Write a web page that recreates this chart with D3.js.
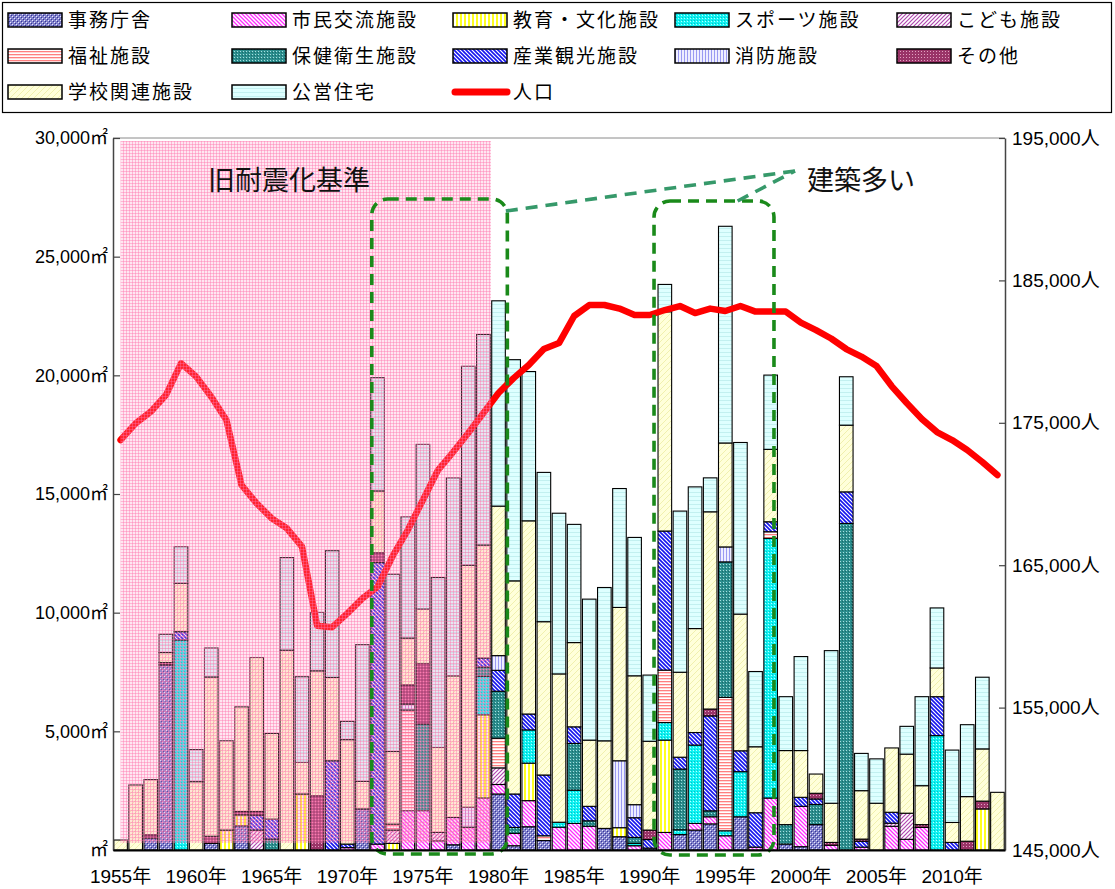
<!DOCTYPE html>
<html><head><meta charset="utf-8">
<script src="https://cdn.jsdelivr.net/npm/d3@7"></script>
<style>
body{margin:0;background:#fff;}
svg{display:block;font-family:"Noto Sans CJK JP",sans-serif;}
</style></head><body>
<svg id="chart" width="1115" height="889"></svg>
<script>
// Floor area built per year (㎡) by facility type, and city population (人)
const years = [1955,1956,1957,1958,1959,1960,1961,1962,1963,1964,
  1965,1966,1967,1968,1969,1970,1971,1972,1973,1974,
  1975,1976,1977,1978,1979,1980,1981,1982,1983,1984,
  1985,1986,1987,1988,1989,1990,1991,1992,1993,1994,
  1995,1996,1997,1998,1999,2000,2001,2002,2003,2004,
  2005,2006,2007,2008,2009,2010,2011,2012,2013];

const categories = ["事務庁舎","市民交流施設","教育・文化施設","スポーツ施設","こども施設",
  "福祉施設","保健衛生施設","産業観光施設","消防施設","その他","学校関連施設","公営住宅"];

const office   = [0,0,505,7800,0,0,280,0,1020,0, 0,0,0,0,0,0,1730,0,0,0, 0,0,220,0,0,2360,180,980,400,0, 0,0,910,560,0,80,0,650,840,1100, 0,1400,0,0,250,140,1070,0,0,0, 0,0,0,0,0,0,0,0,0];
const civic    = [0,0,0,0,0,0,0,0,0,0, 0,0,0,0,0,100,0,250,0,1660, 1660,390,1150,960,2190,400,520,1100,0,960, 1120,1000,0,0,180,0,740,0,280,300, 600,0,120,2190,0,1700,0,200,0,120, 0,1000,450,950,0,0,0,0,0];
const culture  = [0,0,0,0,0,0,0,840,460,0, 0,0,2360,0,0,0,0,0,280,0, 0,0,0,0,3510,0,0,1580,0,0, 0,0,0,380,0,0,3890,0,0,0, 0,0,0,0,0,0,0,0,0,0, 0,0,0,0,0,0,0,1730,0];
const sports   = [0,0,0,0,8850,0,0,0,0,0, 0,0,0,0,0,0,0,0,0,0, 0,0,0,0,1620,0,0,1400,0,210, 1400,0,0,0,100,0,740,200,3300,0, 210,1900,0,10940,0,0,0,0,0,0, 0,0,0,0,4820,0,0,0,0];
const children = [0,0,0,0,0,0,0,0,0,840, 0,0,0,0,0,0,0,0,560,0, 0,350,0,0,0,700,0,0,0,0, 0,0,0,0,0,0,0,0,0,0, 0,0,0,0,0,0,0,0,0,0, 0,130,1100,0,0,0,0,0,0];
const welfare  = [0,0,0,0,0,0,0,0,0,0, 0,0,0,0,0,0,0,0,250,4240, 0,0,0,0,0,1250,0,0,200,0, 0,0,0,0,0,0,2210,0,0,0, 5620,0,0,280,0,0,0,0,0,0, 0,0,0,0,0,0,0,0,0];
const health   = [0,0,0,0,0,0,0,0,0,0, 460,0,0,0,0,0,0,0,0,0, 3650,0,0,0,390,1980,250,0,0,0, 1970,230,0,0,250,0,0,2560,0,250, 5710,0,0,0,820,0,850,0,13760,0, 0,0,0,0,0,0,0,0,0];
const industry = [0,0,0,0,350,0,0,0,0,630, 840,0,0,0,3760,150,0,11860,0,0, 0,0,0,0,380,880,1410,670,2560,0, 700,610,0,0,830,360,5860,500,530,4000, 0,880,1450,420,0,380,230,0,1330,250, 0,460,0,0,1640,320,0,0,0];
const fire     = [0,0,0,0,0,0,0,0,0,0, 0,0,0,0,0,0,0,0,0,250, 0,0,0,840,0,620,0,0,0,0, 0,0,0,2820,550,0,0,0,0,0, 630,0,0,0,0,0,0,0,0,0, 0,0,0,0,0,0,0,0,0];
const other    = [0,0,140,100,0,0,300,0,140,150, 0,0,0,2290,0,0,0,420,0,810, 2550,0,0,0,0,0,0,0,0,0, 0,0,0,0,0,400,0,0,0,290, 0,0,0,0,0,0,240,120,0,90, 0,0,0,120,0,0,370,330,0];
const school   = [420,2740,2320,420,2040,2880,6710,3760,4410,6490, 3610,8420,1330,5260,3510,4400,1160,2600,3060,1970, 2290,3580,5970,10200,4760,6300,8980,8140,6460,6250, 3550,2790,3690,6460,5430,3740,9240,3580,4380,8310, 4380,5760,2780,3050,3120,1970,810,1650,2810,2040, 1970,2710,2490,1640,1210,840,1880,2200,2430];
const housing  = [0,0,0,770,1540,1350,1220,0,0,0, 0,3900,3610,2460,5340,770,5760,4770,7470,5110, 6940,7160,8340,8380,8870,8650,9320,6290,6290,6770, 4980,5940,6460,5010,5830,2790,1150,6790,5970,1430, 9130,7230,3170,3130,2270,3960,0,6430,2040,1570, 1870,0,1170,3750,2530,3050,3030,3020,0];

const population = [173790,174960,175780,176950,179180,178240,176830,175200,170630,169340,
  168290,167590,166300,160750,160650,161620,162670,163490,165650,167470,
  169580,171680,172950,174280,175690,177090,178140,179060,180180,180600,
  182500,183270,183270,183020,182570,182570,182920,183200,182710,183020,
  182850,183200,182810,182810,182810,182040,181510,180920,180180,179650,
  178990,177580,176390,175270,174350,173790,173090,172250,171330];

const areaTicks = [0,5000,10000,15000,20000,25000,30000];
const popTicks = [145000,155000,165000,175000,185000,195000];
const yearTicks = [1955,1960,1965,1970,1975,1980,1985,1990,1995,2000,2005,2010];

const seriesValues = [office,civic,culture,sports,children,welfare,health,industry,fire,other,school,housing];

const svg = d3.select("#chart");
const plot = {left:113, right:1005, top:138, bottom:850};

const x = d3.scaleBand().domain(years).range([plot.left, plot.right]).paddingInner(0.1).paddingOuter(0.05);
const y = d3.scaleLinear().domain([0,30000]).range([plot.bottom, plot.top]);
const y2 = d3.scaleLinear().domain([145000,195000]).range([plot.bottom, plot.top]);

// ---- fill patterns ----
const defs = svg.append("defs");
function pattern(id, w, h, bg, draw){
  const p = defs.append("pattern").attr("id", id).attr("patternUnits","userSpaceOnUse")
    .attr("width", w).attr("height", h);
  p.append("rect").attr("width", w).attr("height", h).attr("fill", bg);
  draw(p);
}
const dot = (p, x0, y0, c) => p.append("rect").attr("x",x0).attr("y",y0).attr("width",1).attr("height",1).attr("fill",c);

pattern("p-office",4,4,"#8282CA",p=>{dot(p,0,0,"#E6E6FF");dot(p,2,2,"#E6E6FF");dot(p,1,1,"#34349A");dot(p,3,3,"#34349A");});
pattern("p-civic",4,4,"#fff",p=>p.append("path").attr("d","M-1,-1L5,5M3,-1L5,1M-1,3L1,5").attr("stroke","#FF30FF").attr("stroke-width",1.3));
pattern("p-culture",4,4,"#fff",p=>{p.append("rect").attr("width",2).attr("height",4).attr("fill","#FFFF20");});
pattern("p-sports",3,3,"#10F2F2",p=>{dot(p,0,0,"#B8FFFF");dot(p,1,2,"#00C4C4");});
pattern("p-children",4,4,"#fff",p=>p.append("path").attr("d","M-1,5L5,-1M-1,1L1,-1M3,5L5,3").attr("stroke","#B048B0").attr("stroke-width",1.2));
pattern("p-welfare",3,3,"#fff",p=>p.append("rect").attr("width",3).attr("height",1.3).attr("fill","#FF8080"));
pattern("p-health",3,3,"#2C8E8E",p=>{dot(p,0,0,"#A8E0E0");dot(p,2,1,"#1A6A6A");});
pattern("p-industry",4,4,"#fff",p=>p.append("path").attr("d","M-1,-1L5,5M3,-1L5,1M-1,3L1,5").attr("stroke","#1414EE").attr("stroke-width",1.6));
pattern("p-fire",3,3,"#EEEEFF",p=>p.append("rect").attr("width",1).attr("height",3).attr("fill","#9A9AF2"));
pattern("p-other",3,3,"#9A3468",p=>{dot(p,0,0,"#E2A2C2");});
pattern("p-school",6,6,"#FFFFDA",p=>p.append("path").attr("d","M-1,7L7,-1M-1,1L1,-1M5,7L7,5").attr("stroke","#F0F0AE").attr("stroke-width",1));
pattern("p-housing",4,4,"#DEFFFF",p=>p.append("rect").attr("width",4).attr("height",1).attr("fill","#C2F0F0"));
pattern("p-old",3,3,"rgba(255,150,195,0.24)",p=>p.append("path").attr("d","M0,0.5H3M0.5,0V3").attr("stroke","rgba(255,110,170,0.4)").attr("stroke-width",1));

const fillIds = ["p-office","p-civic","p-culture","p-sports","p-children","p-welfare","p-health","p-industry","p-fire","p-other","p-school","p-housing"];
const fillOf = {};
categories.forEach((c,i)=> fillOf[c] = `url(#${fillIds[i]})`);

// ---- stacked bars ----
const rows = years.map((yr,i)=>{
  const r = {year: yr};
  categories.forEach((c,k)=> r[c] = seriesValues[k][i]);
  return r;
});
const stacked = d3.stack().keys(categories)(rows);

const barG = svg.append("g");
stacked.forEach(layer=>{
  barG.append("g").attr("fill", fillOf[layer.key])
    .selectAll("rect").data(layer.filter(d=>d[1]-d[0]>0)).join("rect")
    .attr("x", d=>x(d.data.year))
    .attr("width", x.bandwidth())
    .attr("y", d=>y(d[1]))
    .attr("height", d=>y(d[0])-y(d[1]))
    .attr("stroke","#000").attr("stroke-width",1.1);
});

// ---- population line ----
const line = d3.line().x((d,i)=>x(years[i])+x.bandwidth()/2).y(d=>y2(d));
svg.append("path").datum(population).attr("d", line)
  .attr("fill","none").attr("stroke","#FF0000").attr("stroke-width",6.5)
  .attr("stroke-linejoin","round").attr("stroke-linecap","round");

// ---- pre-1981 seismic standard period shading ----
const oldStart = x(1955) + x.bandwidth()/2;
const oldEnd = x(1980) - x.step()*x.paddingInner()/2;
svg.append("rect").attr("x", oldStart).attr("y", plot.top+3)
  .attr("width", oldEnd-oldStart).attr("height", plot.bottom-plot.top-10)
  .attr("fill","url(#p-old)");

svg.append("text").attr("x",208).attr("y",190).attr("font-size",27).attr("fill","#111")
  .text("旧耐震化基準");

// ---- construction-peak callouts ----
const boxG = svg.append("g").attr("fill","none").attr("stroke","#1A8A1A")
  .attr("stroke-width",3.6).attr("stroke-dasharray","11,7");
boxG.append("rect").attr("x", x(1972)+1).attr("y",199)
  .attr("width", x(1981)-x(1972)-0.5).attr("height",655).attr("rx",16);
boxG.append("rect").attr("x", x(1991)-4).attr("y",201)
  .attr("width", x(1999)-x(1991)-1).attr("height",654).attr("rx",16);

const callout = [795,171];
svg.append("g").attr("fill","none").attr("stroke","#36996A").attr("stroke-width",3.6)
  .attr("stroke-dasharray","12,8")
  .selectAll("path").data([[x(1981)-1,211],[x(1996)+4,201]]).join("path")
  .attr("d", d=>`M${d[0]},${d[1]}L${callout[0]},${callout[1]}`);
svg.append("text").attr("x",807).attr("y",190).attr("font-size",27).attr("fill","#111")
  .text("建築多い");

// ---- frame & axes ----
const axisFont = '"Liberation Sans Narrow","Arial Narrow","Liberation Sans","Noto Sans CJK JP",sans-serif';
svg.append("line").attr("x1",plot.left).attr("x2",plot.right).attr("y1",plot.top).attr("y2",plot.top)
  .attr("stroke","#8a8a8a").attr("stroke-width",1);

const yAxis = svg.append("g").attr("transform",`translate(${plot.left},0)`)
  .call(d3.axisLeft(y).tickValues(areaTicks).tickSizeInner(-7).tickSizeOuter(0).tickPadding(5)
    .tickFormat(d=> d===0 ? "㎡" : d3.format(",")(d)+"㎡"));
const y2Axis = svg.append("g").attr("transform",`translate(${plot.right},0)`)
  .call(d3.axisRight(y2).tickValues(popTicks).tickSizeInner(-6).tickSizeOuter(0).tickPadding(7)
    .tickFormat(d=> d3.format(",")(d)+"人"));
[yAxis,y2Axis].forEach(g=>{
  g.select(".domain").attr("stroke","#444").attr("stroke-width",1.5);
  g.selectAll(".tick line").attr("stroke","#444").attr("stroke-width",1.2);
  g.selectAll("text").attr("font-family",axisFont).attr("font-size",18).attr("fill","#000");
});
y2Axis.selectAll("text").attr("font-size",19);

const xAxis = svg.append("g").attr("transform",`translate(0,${plot.bottom})`)
  .call(d3.axisBottom(x).tickValues(yearTicks).tickSize(0).tickPadding(20).tickFormat(d=>d+"年"));
xAxis.select(".domain").attr("stroke","#000").attr("stroke-width",2.2);
xAxis.selectAll("text").attr("font-family",axisFont).attr("font-size",19).attr("fill","#000");

// ---- legend ----
const lg = svg.append("g");
lg.append("rect").attr("x",2.5).attr("y",2.5).attr("width",1109).attr("height",110)
  .attr("fill","#fff").attr("stroke","#000").attr("stroke-width",1.2);
const colX = [8,232,453,675,897];
const rowY = [20,56,92];
const legendItems = categories.map((c,i)=>({name:c, kind:"bar", col:i%5, row:Math.floor(i/5)}));
legendItems.push({name:"人口", kind:"line", col:2, row:2});
legendItems.forEach(it=>{
  const gx = colX[it.col], gy = rowY[it.row];
  if(it.kind==="bar"){
    lg.append("rect").attr("x",gx).attr("y",gy-7).attr("width",54).attr("height",14)
      .attr("fill",fillOf[it.name]).attr("stroke","#000").attr("stroke-width",1.5);
  } else {
    lg.append("line").attr("x1",gx+2).attr("x2",gx+54).attr("y1",gy).attr("y2",gy)
      .attr("stroke","#FF0000").attr("stroke-width",7).attr("stroke-linecap","round");
  }
  lg.append("text").attr("x",gx+60).attr("y",gy).attr("dy","0.36em")
    .attr("font-size",19).attr("letter-spacing",2).attr("fill","#000").text(it.name);
});
</script>
</body></html>
